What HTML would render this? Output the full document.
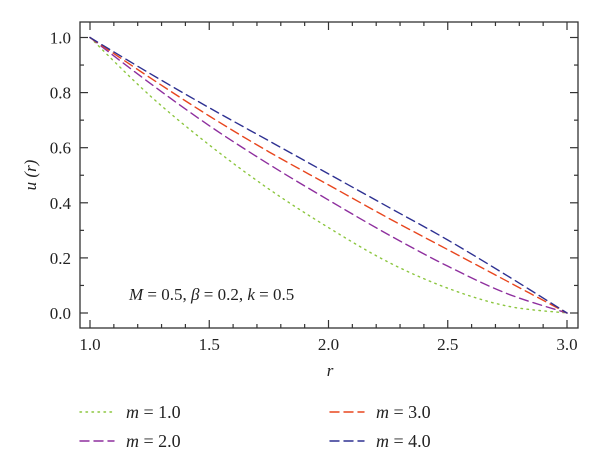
<!DOCTYPE html>
<html><head><meta charset="utf-8"><style>
body{margin:0;background:#fff;}
svg text{font-family:"Liberation Serif",serif;fill:#222;}
</style></head><body>
<svg width="600" height="464" viewBox="0 0 600 464" xmlns="http://www.w3.org/2000/svg">
<g id="ticks"></g>
<g id="series"></g>
<rect x="80" y="22" width="498" height="306" fill="none" stroke="#333" stroke-width="1.3"/>
<text transform="translate(36,175) rotate(-90)" text-anchor="middle" font-size="17" font-style="italic">u (r)</text>
<text x="330" y="376" text-anchor="middle" font-size="17" font-style="italic">r</text>
<text x="129" y="300" font-size="17"><tspan font-style="italic">M</tspan> = 0.5, <tspan font-style="italic">β</tspan> = 0.2, <tspan font-style="italic">k</tspan> = 0.5</text>
<g id="legend"></g>
</svg>
<script>
const rValues=[1,1.25,1.5,1.75,2,2.25,2.5,2.75,3];
const m1=[1,0.79,0.61,0.45,0.31,0.185,0.09,0.025,0];
const m2=[1,0.835,0.68,0.54,0.41,0.285,0.17,0.07,0];
const m3=[1,0.855,0.715,0.585,0.465,0.345,0.23,0.115,0];
const m4=[1,0.87,0.745,0.625,0.505,0.385,0.265,0.135,0];
const xTicks=["1.0","1.5","2.0","2.5","3.0"];
const yTicks=["0.0","0.2","0.4","0.6","0.8","1.0"];
const seriesNames=["m = 1.0","m = 2.0","m = 3.0","m = 4.0"];
const NS="http://www.w3.org/2000/svg";
const xs=v=>90+(v-1)*238.5, ys=v=>313-v*275.5;
function mk(t,a,p){const e=document.createElementNS(NS,t);for(const k in a)e.setAttribute(k,a[k]);p.appendChild(e);return e;}
const tg=document.getElementById('ticks');
for(let i=0;i<=21;i++){const v=1+i*0.1;if(v>3.01)break;const x=xs(v);const major=i%5===0;const L=major?8:4;
 const t1=mk('line',{x1:x,x2:x,y1:328,y2:328-L,stroke:'#333','stroke-width':1.2},tg);
 const t2=mk('line',{x1:x,x2:x,y1:22,y2:22+L,stroke:'#333','stroke-width':1.2},tg);}
for(let i=-1;i<=11;i++){const v=i*0.1;const y=ys(v);if(y<23||y>327)continue;const L=i%2===0?8:4;
 const t1=mk('line',{x1:80,x2:80+L,y1:y,y2:y,stroke:'#333','stroke-width':1.2},tg);
 const t2=mk('line',{x1:578,x2:578-L,y1:y,y2:y,stroke:'#333','stroke-width':1.2},tg);}
xTicks.forEach(s=>{const t=mk('text',{x:xs(parseFloat(s)),y:350,'text-anchor':'middle','font-size':17},tg);t.textContent=s;});
yTicks.forEach(s=>{const t=mk('text',{x:71,y:ys(parseFloat(s))+6,'text-anchor':'end','font-size':17},tg);t.textContent=s;});
function pathD(vals){const P=rValues.map((r,i)=>[xs(r),ys(vals[i])]);let d='M'+P[0][0]+','+P[0][1];
 for(let i=0;i<P.length-1;i++){const p0=P[Math.max(0,i-1)],p1=P[i],p2=P[i+1],p3=P[Math.min(P.length-1,i+2)];
  const c1=[p1[0]+(p2[0]-p0[0])/6,p1[1]+(p2[1]-p0[1])/6],c2=[p2[0]-(p3[0]-p1[0])/6,p2[1]-(p3[1]-p1[1])/6];
  d+=' C'+c1.join(',')+' '+c2.join(',')+' '+p2.join(',');}return d;}
const styles=[{c:'#8cc63f',d:'1.5 4.5',n:'series-m1'},{c:'#8e2f9e',d:'9 5',n:'series-m2'},{c:'#e8461e',d:'9 5',n:'series-m3'},{c:'#2e3192',d:'9 5',n:'series-m4'}];
const sg=document.getElementById('series');
[m1,m2,m3,m4].forEach((vals,i)=>{const p=mk('path',{d:pathD(vals),fill:'none',stroke:styles[i].c,'stroke-width':1.4,'stroke-dasharray':styles[i].d,'stroke-linecap':'round'},sg);
 });
const lg=document.getElementById('legend');
const pos=[[80,412],[80,441],[330,412],[330,441]];
seriesNames.forEach((s,i)=>{const [x,y]=pos[i];
 const l=mk('line',{x1:x,x2:x+34,y1:y,y2:y,stroke:styles[i].c,'stroke-width':1.4,'stroke-dasharray':styles[i].d,'stroke-linecap':'round'},lg);
 
 const t=mk('text',{x:x+46,y:y+6,'font-size':18},lg);
 t.innerHTML='<tspan font-style="italic">m</tspan>'+s.slice(1);
 });
</script>
</body></html>
